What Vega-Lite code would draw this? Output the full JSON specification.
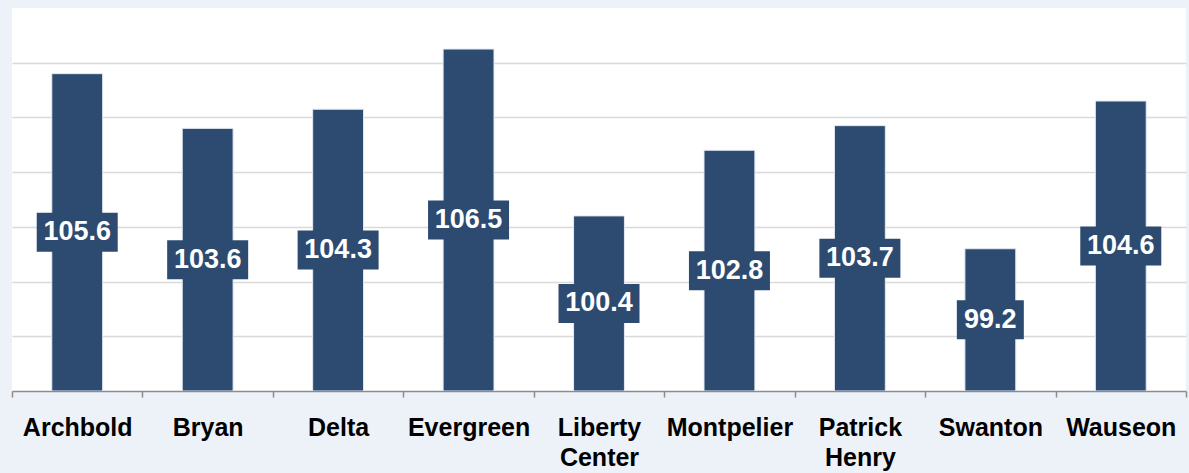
{
  "$schema": "https://vega.github.io/schema/vega-lite/v6.json",
  "width": 1174,
  "height": 383,
  "padding": {"left": 12, "top": 8, "right": 3, "bottom": 82},
  "autosize": {"type": "none"},
  "background": "#EDF1F8",
  "config": {"view": {"fill": "white", "stroke": null}, "font": "Liberation Sans"},
  "data": {
    "values": [
      {"town": "Archbold", "value": 105.6},
      {"town": "Bryan", "value": 103.6},
      {"town": "Delta", "value": 104.3},
      {"town": "Evergreen", "value": 106.5},
      {"town": "Liberty Center", "value": 100.4},
      {"town": "Montpelier", "value": 102.8},
      {"town": "Patrick Henry", "value": 103.7},
      {"town": "Swanton", "value": 99.2},
      {"town": "Wauseon", "value": 104.6}
    ]
  },
  "encoding": {
    "x": {
      "field": "town",
      "type": "nominal",
      "sort": null,
      "scale": {"paddingInner": 0, "paddingOuter": 0},
      "axis": {
        "title": null,
        "labelAngle": 0,
        "labelFont": "Liberation Sans",
        "labelFontSize": 25,
        "labelFontWeight": "bold",
        "labelColor": "black",
        "tickBand": "extent",
        "tickSize": 6,
        "tickColor": "#8C8C8C",
        "tickWidth": 1.5,
        "domainColor": "#8C8C8C",
        "domainWidth": 1.5,
        "labelPadding": 18,
        "labelExpr": "split(datum.label, ' ')",
        "labelLineHeight": 30,
        "labelBaseline": "top",
        "labelLimit": 0
      }
    }
  },
  "layer": [
    {
      "mark": {"type": "bar", "color": "#2D4B71", "width": {"band": 0.39}, "stroke": "#E3E9F2", "strokeWidth": 1, "clip": true},
      "encoding": {
        "y": {
          "field": "value",
          "type": "quantitative",
          "scale": {"domain": [94, 108], "zero": false, "nice": false},
          "axis": {
            "title": null,
            "labels": false,
            "ticks": false,
            "domain": false,
            "grid": true,
            "gridColor": "#D9D9D9",
            "gridWidth": 1.5,
            "values": [96, 98, 100, 102, 104, 106]
          }
        },
        "y2": {"datum": 94}
      }
    },
    {
      "mark": {"type": "point", "filled": true, "color": "#2D4B71", "opacity": 1, "size": 1521, "yOffset": {"expr": "(height - scale('y', datum.value)) / 2"}},
      "encoding": {
        "y": {"field": "value", "type": "quantitative"},
        "shape": {
          "condition": {"test": "datum.value < 100", "value": "M-1.718,-1H1.718V1H-1.718Z"},
          "value": "M-2.077,-1H2.077V1H-2.077Z"
        }
      }
    },
    {
      "mark": {"type": "text", "color": "white", "fontSize": 27, "fontWeight": "bold", "baseline": "middle", "font": "Liberation Sans", "yOffset": {"expr": "(height - scale('y', datum.value)) / 2"}},
      "encoding": {
        "y": {"field": "value", "type": "quantitative"},
        "text": {"field": "value", "type": "quantitative", "format": ".1f"}
      }
    }
  ]
}
